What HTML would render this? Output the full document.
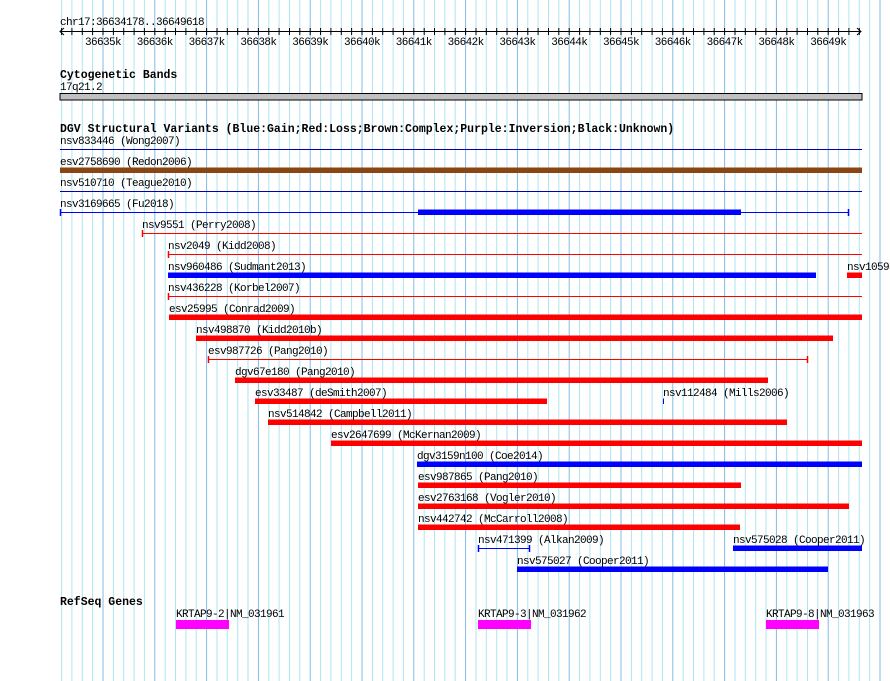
<!DOCTYPE html>
<html><head><meta charset="utf-8"><style>
body{margin:0;background:#fff;width:890px;height:681px;overflow:hidden;position:relative;font-family:"Liberation Mono","DejaVu Sans Mono",monospace;}
svg{position:absolute;left:0;top:0}
</style></head><body>
<svg id="s" width="890" height="681" xmlns="http://www.w3.org/2000/svg" font-family="Liberation Mono, DejaVu Sans Mono, monospace"></svg>
<script>
const s=document.getElementById('s');let h='';
const T=(x,y,t,extra='')=>`<text x="${x}" y="${y}" font-size="11" letter-spacing="-0.6" ${extra}>${t}</text>`;
for(let m=-4;m<80;m++){const x=103+m*10.36;if(x<60||x>890)continue;
 const maj=(m%5===0);h+=`<line x1="${x.toFixed(1)}" y1="0" x2="${x.toFixed(1)}" y2="681" stroke="${maj?'#7fbce8':'#aee6f0'}" stroke-width="1"/>`;}
h+=T(60,25,'chr17:36634178..36649618');
h+=`<line x1="60" y1="31.5" x2="861" y2="31.5" stroke="#000"/>`;
h+=`<path d="M64 28 L60 31.5 L64 35 M857 28 L861 31.5 L857 35" stroke="#000" fill="none"/>`;
for(let m=-4;m<74;m++){const x=103+m*10.36;if(x<61||x>860)continue;h+=`<line x1="${x.toFixed(1)}" y1="28" x2="${x.toFixed(1)}" y2="35" stroke="#000"/>`;}
for(let k=0;k<15;k++){h+=T(103+k*51.8,45,(36635+k)+'k','text-anchor="middle"');}
h+=`<text x="60" y="78" font-size="11.5" font-weight="bold">Cytogenetic Bands</text>`;
h+=T(60,90,'17q21.2');
h+=`<rect x="60" y="93.5" width="802" height="6.5" fill="#c0c0c0" stroke="#000"/>`;
h+=`<text x="60" y="132" font-size="11.5" font-weight="bold">DGV Structural Variants (Blue:Gain;Red:Loss;Brown:Complex;Purple:Inversion;Black:Unknown)</text>`;
const R='#ff0000',B='#0000ff',BR='#8b4513';
const rows=[
['nsv833446 (Wong2007)',60,140,60,862,'#0000b0','l'],
['esv2758690 (Redon2006)',60,161,60,862,BR,'b'],
['nsv510710 (Teague2010)',60,182,60,862,'#0000b0','l'],
['nsv3169665 (Fu2018)',60,203,60,849,B,'lt'],
['nsv9551 (Perry2008)',142,224,142,862,R,'lt'],
['nsv2049 (Kidd2008)',168,245,168,862,R,'lt'],
['nsv960486 (Sudmant2013)',168,266,168,816,B,'b'],
['nsv10595',847,266,847,862,R,'b'],
['nsv436228 (Korbel2007)',168,287,168,862,R,'lt'],
['esv25995 (Conrad2009)',169,308,169,862,R,'b'],
['nsv498870 (Kidd2010b)',196,329,196,833,R,'b'],
['esv987726 (Pang2010)',208,350,208,808,R,'lt'],
['dgv67e180 (Pang2010)',235,371,235,768,R,'b'],
['esv33487 (deSmith2007)',255,392,255,547,R,'b'],
['nsv112484 (Mills2006)',663,392,663,664,B,'b'],
['nsv514842 (Campbell2011)',268,413,268,787,R,'b'],
['esv2647699 (McKernan2009)',331,434,331,862,R,'b'],
['dgv3159n100 (Coe2014)',417,455,417,862,B,'b'],
['esv987865 (Pang2010)',418,476,418,741,R,'b'],
['esv2763168 (Vogler2010)',418,497,418,849,R,'b'],
['nsv442742 (McCarroll2008)',418,518,418,740,R,'b'],
['nsv471399 (Alkan2009)',478,539,478,530,B,'lt'],
['nsv575028 (Cooper2011)',733,539,733,862,B,'b'],
['nsv575027 (Cooper2011)',517,560,517,828,B,'b'],
];
for(const [t,lx,ly,x1,x2,c,ty] of rows){
 h+=T(lx,ly+4,t);
 const y=ly+9;
 if(ty==='b'){h+=`<rect x="${x1}" y="${y-2.5}" width="${x2-x1}" height="5.5" fill="${c}"/>`;}
 else{h+=`<line x1="${x1}" y1="${y+0.5}" x2="${x2}" y2="${y+0.5}" stroke="${c}"/>`;
  if(ty==='lt'){h+=`<line x1="${x1+0.5}" y1="${y-3}" x2="${x1+0.5}" y2="${y+4}" stroke="${c}" stroke-width="1.5"/>`;
   if(x2<862)h+=`<line x1="${x2-0.5}" y1="${y-3}" x2="${x2-0.5}" y2="${y+4}" stroke="${c}" stroke-width="1.5"/>`;}}
}
h+=`<rect x="418" y="209.5" width="323" height="5.5" fill="${B}"/>`;
h+=`<text x="60" y="605" font-size="11.5" font-weight="bold">RefSeq Genes</text>`;
for(const [t,x] of [['KRTAP9-2|NM_031961',176],['KRTAP9-3|NM_031962',478],['KRTAP9-8|NM_031963',766]]){
 h+=T(x,617,t)+`<rect x="${x}" y="620" width="53" height="9" fill="#ff00ff"/>`;}
s.innerHTML=h;
</script>
</body></html>
